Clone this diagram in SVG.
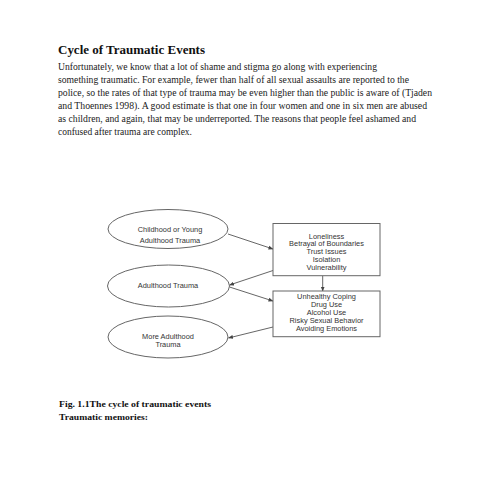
<svg xmlns="http://www.w3.org/2000/svg" width="495" height="495" viewBox="0 0 495 495">
<style>
.body{font-family:"Liberation Serif","Times New Roman",serif;font-size:9.4px;fill:#222}
.title{font-family:"Liberation Serif","Times New Roman",serif;font-size:12.5px;font-weight:bold;fill:#111}
.cap{font-family:"Liberation Serif","Times New Roman",serif;font-size:9px;font-weight:bold;fill:#111}
.nt{font-family:"Liberation Sans",Arial,sans-serif;font-size:7.4px;fill:#333;text-anchor:middle}
.shape{fill:#fff;stroke:#666;stroke-width:1}
.conn{stroke:#555;stroke-width:0.9;fill:none;marker-end:url(#ah)}
</style>
<defs>
<marker id="ah" viewBox="0 0 10 10" refX="9" refY="5" markerWidth="5" markerHeight="5" orient="auto" markerUnits="userSpaceOnUse">
<path d="M0,1 L10,5 L0,9 z" fill="#444"/>
</marker>
</defs>
<rect width="495" height="495" fill="#fff"/>
<text class="title" x="58" y="54" textLength="147" lengthAdjust="spacingAndGlyphs">Cycle of Traumatic  Events</text>
<g id="paragraph">
<text class="body" x="58" y="69.5" textLength="319" lengthAdjust="spacingAndGlyphs">Unfortunately,  we know that a lot of shame and stigma  go along  with experiencing</text>
<text class="body" x="58" y="82.5" textLength="351" lengthAdjust="spacingAndGlyphs">something  traumatic.  For example,  fewer than half of all sexual assaults  are reported to the</text>
<text class="body" x="58" y="95.5" textLength="374" lengthAdjust="spacingAndGlyphs">police,  so the rates of that type of trauma  may be even higher  than the public  is aware of (Tjaden</text>
<text class="body" x="58" y="108.5" textLength="369" lengthAdjust="spacingAndGlyphs">and Thoennes  1998). A good estimate  is that one in four  women and one in six men are abused</text>
<text class="body" x="58" y="121.5" textLength="358" lengthAdjust="spacingAndGlyphs">as children,  and again,  that may be underreported.  The reasons that people feel ashamed and</text>
<text class="body" x="58" y="134.5" textLength="134" lengthAdjust="spacingAndGlyphs">confused  after trauma  are complex.</text>
</g>
<g id="connectors">
<line class="conn" x1="228" y1="234" x2="273" y2="249"/>
<line class="conn" x1="273" y1="270.5" x2="229.5" y2="285"/>
<line class="conn" x1="229.5" y1="287" x2="273" y2="301"/>
<line class="conn" x1="322.7" y1="275.7" x2="322.7" y2="291"/>
<line class="conn" x1="273" y1="327" x2="228.5" y2="338"/>
</g>
<g id="n1">
<ellipse class="shape" cx="168" cy="229" rx="60" ry="19.5"/>
<text class="nt" x="170" y="231.5">Childhood or Young</text>
<text class="nt" x="170" y="243" fill="#222">Adulthood Trauma</text>
</g>
<g id="n2">
<ellipse class="shape" cx="168.5" cy="286" rx="61" ry="21"/>
<text class="nt" x="168" y="288">Adulthood Trauma</text>
</g>
<g id="n3">
<ellipse class="shape" cx="168" cy="337" rx="60" ry="21"/>
<text class="nt" x="168" y="338.5">More Adulthood</text>
<text class="nt" x="168" y="346.5">Trauma</text>
</g>
<g id="n4">
<rect class="shape" x="273" y="223.5" width="107" height="52.2"/>
<text class="nt" x="326.5" y="238.5">Loneliness</text>
<text class="nt" x="326.5" y="246.3">Betrayal of Boundaries</text>
<text class="nt" x="326.5" y="254">Trust Issues</text>
<text class="nt" x="326.5" y="261.7">Isolation</text>
<text class="nt" x="326.5" y="269.5">Vulnerability</text>
</g>
<g id="n5">
<rect class="shape" x="273" y="291" width="107" height="45.7"/>
<text class="nt" x="326.5" y="299.3">Unhealthy Coping</text>
<text class="nt" x="326.5" y="307.2">Drug Use</text>
<text class="nt" x="326.5" y="314.9">Alcohol Use</text>
<text class="nt" x="326.5" y="322.8">Risky Sexual Behavior</text>
<text class="nt" x="326.5" y="330.5">Avoiding Emotions</text>
</g>
<g id="caption">
<text class="cap" x="59" y="406.5" textLength="152" lengthAdjust="spacingAndGlyphs">Fig. 1.1The cycle of traumatic  events</text>
<text class="cap" x="59" y="420" textLength="89" lengthAdjust="spacingAndGlyphs">Traumatic  memories:</text>
</g>
</svg>
